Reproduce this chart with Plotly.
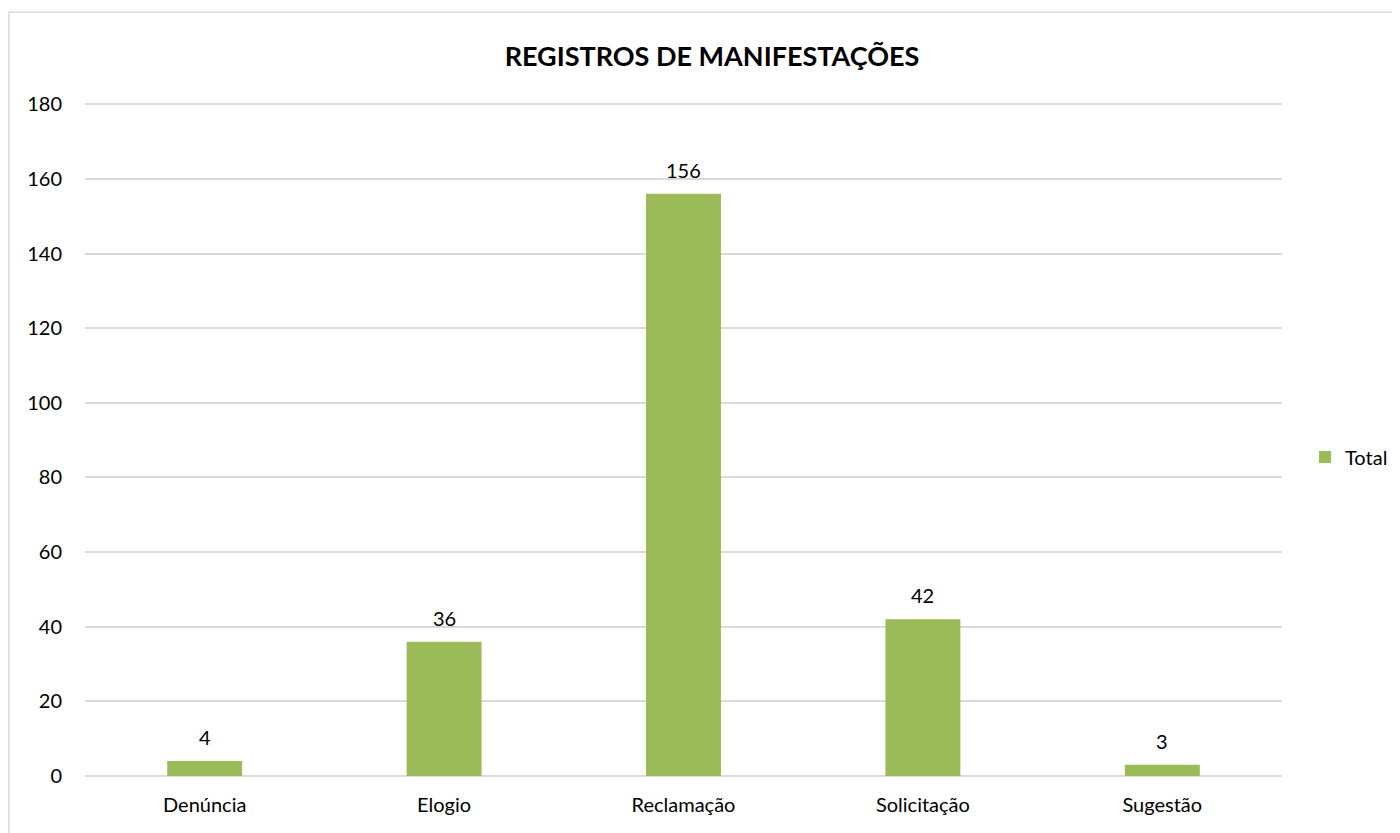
import plotly.graph_objects as go

categories = ["Denúncia", "Elogio", "Reclamação", "Solicitação", "Sugestão"]
values = [4, 36, 156, 42, 3]
series_name = "Total"
title_text = "REGISTROS DE MANIFESTAÇÕES"

W, H = 1400, 833
OFF = 8  # page body margin offset
L = 85 - OFF
R = W - (1282 - OFF)
B = H - (776 - OFF)
TOP_PX = 104 - OFF  # pixel of 180 gridline
YMAX = 180.6
ph_ = (H - B - TOP_PX) * YMAX / 180.0
T = H - B - ph_
pw = W - L - R

fig = go.Figure()
fig.add_trace(go.Bar(
    x=categories, y=values, name=series_name,
    marker=dict(color="#9BBB59", line=dict(width=0)),
    width=0.313,
))
for c, v in zip(categories, values):
    fig.add_annotation(x=c, y=v, text=str(v), showarrow=False, yanchor="bottom",
                       yshift=10, font=dict(size=20, color="#000000", family="Lato"))
fig.update_layout(
    width=W, height=H,
    margin=dict(l=L, r=R, t=T, b=B, autoexpand=False),
    paper_bgcolor="white", plot_bgcolor="white",
    font=dict(family="Lato", size=20, color="#000000"),
    title=dict(text="<b>" + title_text + "</b>", x=(712 - OFF) / W, xref="container",
               xanchor="center", y=1 - (57 - OFF) / H, yref="container", yanchor="middle",
               font=dict(size=27, family="Lato", color="#000000")),
    showlegend=True,
    legend=dict(x=(1305 - OFF) / W, y=1 - (457 - OFF) / H, xref="container", yref="container",
                xanchor="left", yanchor="middle",
                font=dict(size=20), itemwidth=30, bgcolor="rgba(0,0,0,0)"),
)
fig.update_xaxes(showline=False, ticks="", tickfont=dict(size=20), ticklabelstandoff=15,
                 automargin=False)
fig.update_yaxes(range=[0, YMAX], tickvals=list(range(0, 181, 20)), showgrid=True,
                 gridcolor="#D9D9D9", gridwidth=1.5,
                 zeroline=True, zerolinecolor="#D9D9D9", zerolinewidth=1.5,
                 showline=False, ticks="", tickfont=dict(size=20), ticklabelstandoff=22,
                 automargin=False)
fig.add_shape(type="rect", xref="paper", yref="paper",
              x0=(9 - OFF - L) / pw, x1=(1397 - OFF - L) / pw,
              y0=(H - B - 840) / ph_, y1=(H - B - (12 - OFF)) / ph_,
              line=dict(color="#D9D9D9", width=1.5), fillcolor="rgba(0,0,0,0)", layer="below")
fig.write_html("out.html")
